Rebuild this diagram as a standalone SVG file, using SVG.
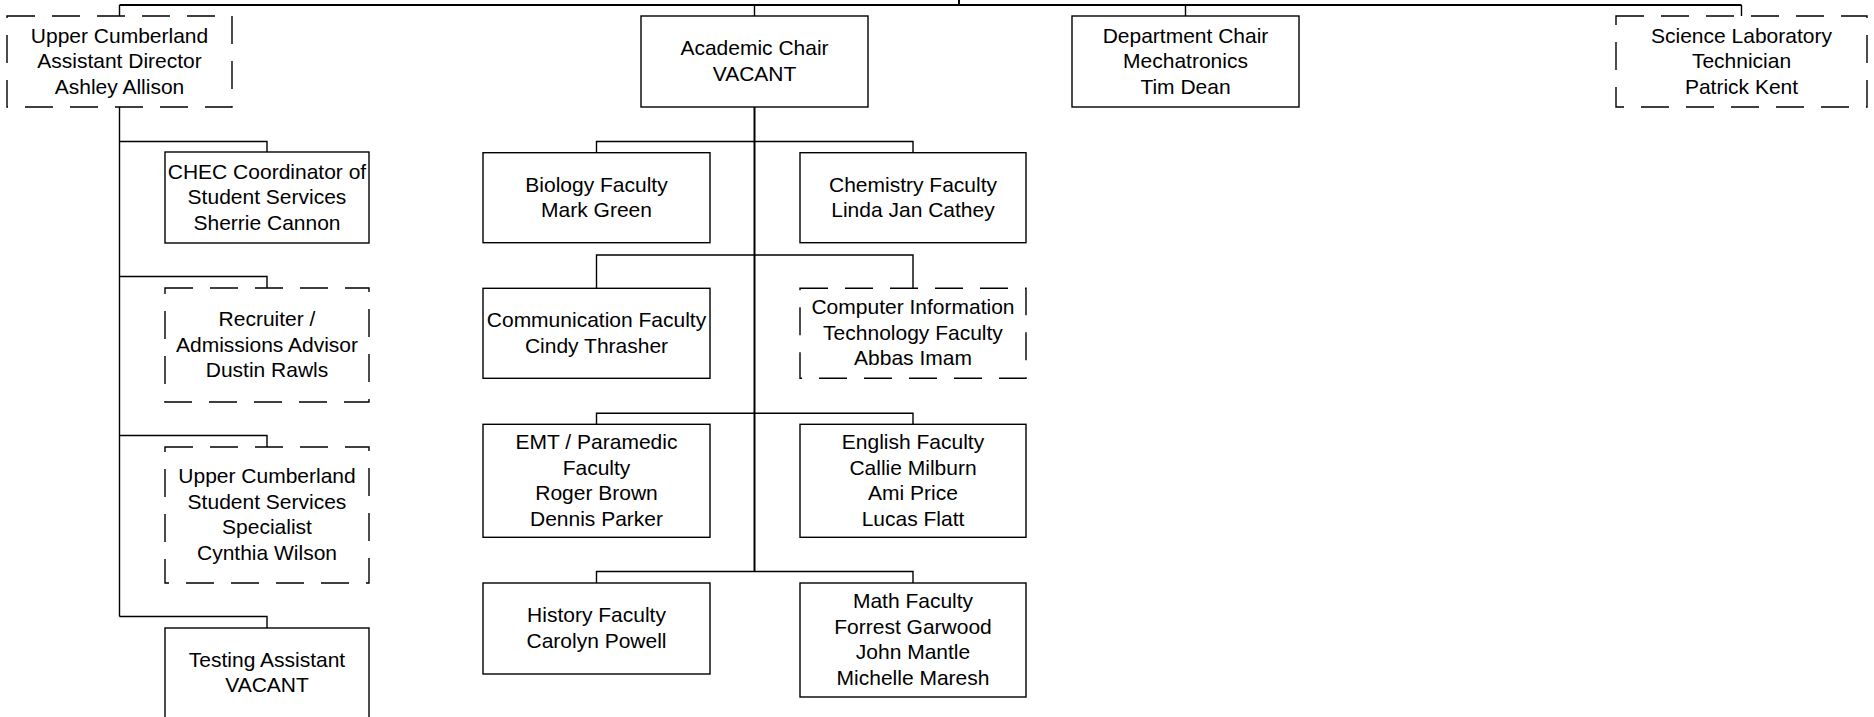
<svg xmlns="http://www.w3.org/2000/svg" width="1874" height="717" viewBox="0 0 1874 717">
<style>
.box{fill:#fff;stroke:#000;stroke-width:1.4}
.dash{fill:#fff;stroke:#000;stroke-width:1.4;stroke-dasharray:28 17}
.ln{fill:none;stroke:#000;stroke-width:1.4}
.thick{fill:none;stroke:#000;stroke-width:2}
text{font-family:"Liberation Sans",Arial,sans-serif;font-size:21px;fill:#000;text-anchor:middle}
</style>
<rect width="1874" height="717" fill="#fff"/>
<g id="connectors">
<path class="thick" d="M959,0V5M119.5,5H1741.5"/>
<path class="ln" d="M119.5,5V16M754.5,5V16M1185.5,5V16M1741.5,5V16"/>
<path class="ln" d="M119.5,107V616.5M119.5,141.5H267V152M119.5,276.5H267V288M119.5,435.5H267V447M119.5,616.5H267V628"/>
<path class="thick" d="M754.5,107V571.5"/>
<path class="ln" d="M596.5,152.7V141.5H913V152.7M596.5,288.3V255H913V288.3M596.5,424.3V413.3H913V424.3M596.5,583V571.5H913V583"/>
</g>
<g id="n-ad"><rect class="dash" x="7" y="16" width="225" height="91"/><text x="119.5" y="42.5">Upper Cumberland</text><text x="119.5" y="68">Assistant Director</text><text x="119.5" y="93.5">Ashley Allison</text></g>
<g id="n-ac"><rect class="box" x="641" y="16" width="227" height="91"/><text x="754.5" y="55.3">Academic Chair</text><text x="754.5" y="80.8">VACANT</text></g>
<g id="n-dc"><rect class="box" x="1072" y="16" width="227" height="91"/><text x="1185.5" y="42.5">Department Chair</text><text x="1185.5" y="68">Mechatronics</text><text x="1185.5" y="93.5">Tim Dean</text></g>
<g id="n-sl"><rect class="dash" x="1616" y="16" width="251" height="91"/><text x="1741.5" y="42.5">Science Laboratory</text><text x="1741.5" y="68">Technician</text><text x="1741.5" y="93.5">Patrick Kent</text></g>
<g id="n-chec"><rect class="box" x="165" y="152" width="204" height="91"/><text x="267" y="178.5">CHEC Coordinator of</text><text x="267" y="204">Student Services</text><text x="267" y="229.5">Sherrie Cannon</text></g>
<g id="n-rec"><rect class="dash" x="165" y="288" width="204" height="114"/><text x="267" y="326">Recruiter /</text><text x="267" y="351.5">Admissions Advisor</text><text x="267" y="377">Dustin Rawls</text></g>
<g id="n-ucss"><rect class="dash" x="165" y="447" width="204" height="136"/><text x="267" y="483.3">Upper Cumberland</text><text x="267" y="508.8">Student Services</text><text x="267" y="534.3">Specialist</text><text x="267" y="559.8">Cynthia Wilson</text></g>
<g id="n-test"><rect class="box" x="165" y="628" width="204" height="91"/><text x="267" y="666.8">Testing Assistant</text><text x="267" y="692.3">VACANT</text></g>
<g id="n-bio"><rect class="box" x="483" y="152.7" width="227" height="90"/><text x="596.5" y="191.5">Biology Faculty</text><text x="596.5" y="217">Mark Green</text></g>
<g id="n-chem"><rect class="box" x="800" y="152.7" width="226" height="90"/><text x="913" y="191.5">Chemistry Faculty</text><text x="913" y="217">Linda Jan Cathey</text></g>
<g id="n-comm"><rect class="box" x="483" y="288.3" width="227" height="90"/><text x="596.5" y="327">Communication Faculty</text><text x="596.5" y="352.5">Cindy Thrasher</text></g>
<g id="n-cit"><rect class="dash" x="800" y="288.3" width="226" height="90"/><text x="913" y="314.2">Computer Information</text><text x="913" y="339.7">Technology Faculty</text><text x="913" y="365.2">Abbas Imam</text></g>
<g id="n-emt"><rect class="box" x="483" y="424.3" width="227" height="113"/><text x="596.5" y="449">EMT / Paramedic</text><text x="596.5" y="474.5">Faculty</text><text x="596.5" y="500">Roger Brown</text><text x="596.5" y="525.5">Dennis Parker</text></g>
<g id="n-eng"><rect class="box" x="800" y="424.3" width="226" height="113"/><text x="913" y="449">English Faculty</text><text x="913" y="474.5">Callie Milburn</text><text x="913" y="500">Ami Price</text><text x="913" y="525.5">Lucas Flatt</text></g>
<g id="n-hist"><rect class="box" x="483" y="583" width="227" height="91"/><text x="596.5" y="622.3">History Faculty</text><text x="596.5" y="647.8">Carolyn Powell</text></g>
<g id="n-math"><rect class="box" x="800" y="583" width="226" height="114"/><text x="913" y="608.3">Math Faculty</text><text x="913" y="633.8">Forrest Garwood</text><text x="913" y="659.3">John Mantle</text><text x="913" y="684.8">Michelle Maresh</text></g>
</svg>
